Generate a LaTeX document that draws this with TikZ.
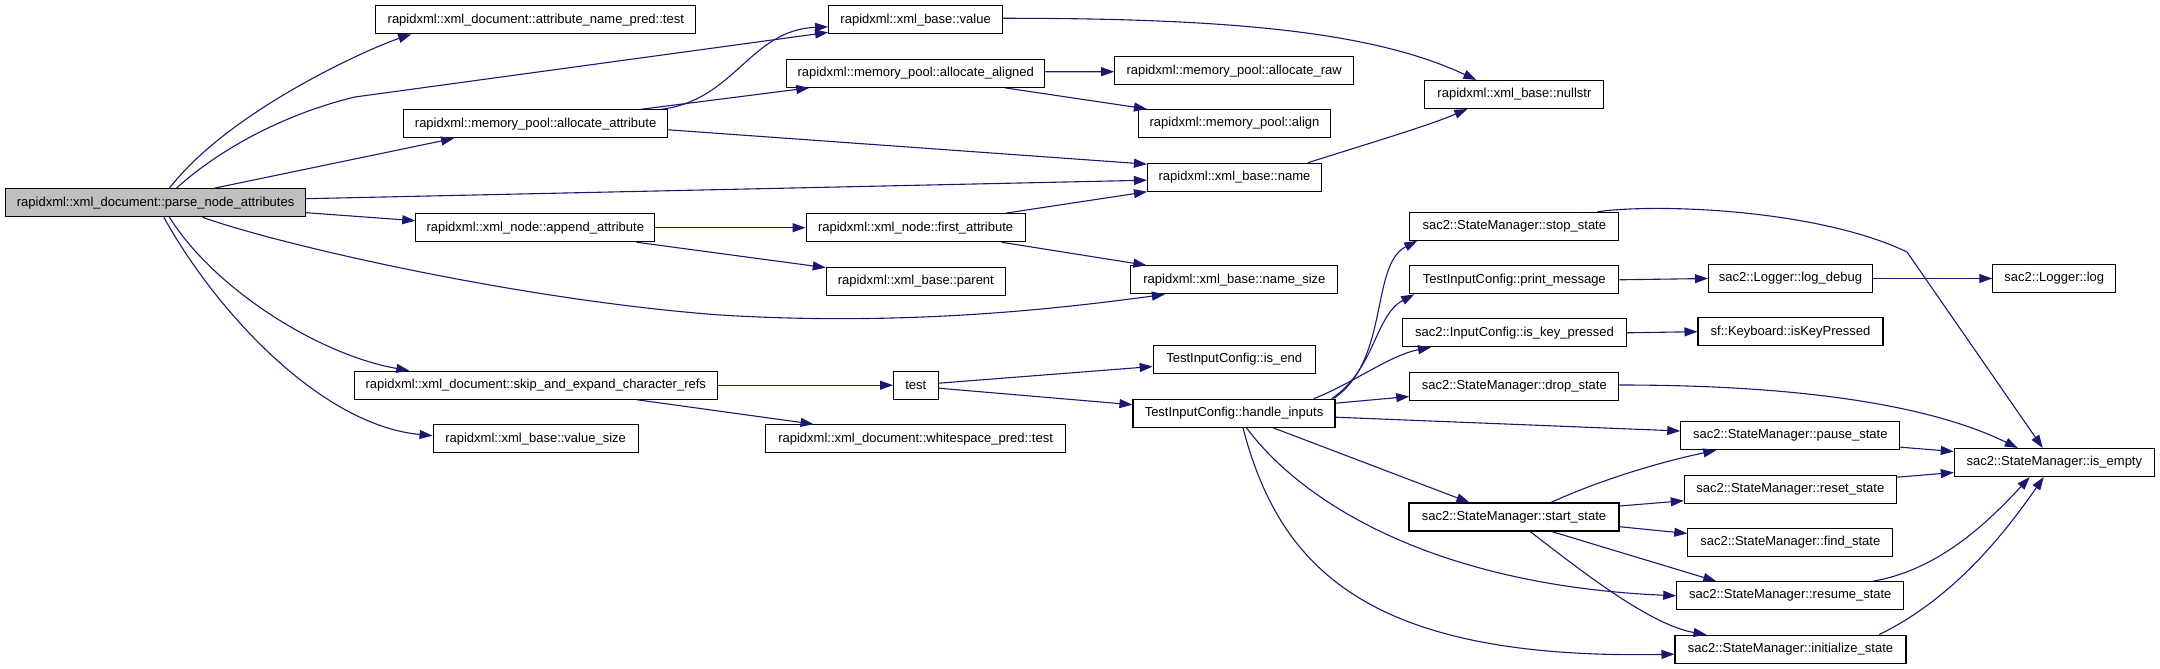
\documentclass[tikz,border=0pt]{standalone}
\usepackage{fontspec}
\setmainfont{Liberation Sans}
\usetikzlibrary{arrows.meta,calc}
\definecolor{edgeblue}{HTML}{191970}
\definecolor{nodegray}{HTML}{BFBFBF}
\begin{document}
\begin{tikzpicture}[x=1pt,y=-1pt,
  fn/.style={draw=black, line width=1.1pt, fill=white, minimum height=28pt, inner sep=0pt, font=\fontsize{13}{15}\selectfont},
  call/.style={draw=edgeblue, line width=1.1pt, -{Triangle[length=13pt,width=9pt]}}]
\fill[white] (0,0) rectangle (2160,669);
\useasboundingbox (0,0) rectangle (2160,669);

% column 0
\node[fn, minimum width=300pt, fill=nodegray] (parse) at (155.6,202.7) {rapidxml::xml\_document::parse\_node\_attributes};
% column 1
\node[fn, minimum width=320pt] (apt) at (535.8,19.8) {rapidxml::xml\_document::attribute\_name\_pred::test};
\node[fn, minimum width=264pt] (aat) at (535.6,123.8) {rapidxml::memory\_pool::allocate\_attribute};
\node[fn, minimum width=239pt] (app) at (535.3,227.7) {rapidxml::xml\_node::append\_attribute};
\node[fn, minimum width=363pt] (ske) at (535.8,385.2) {rapidxml::xml\_document::skip\_and\_expand\_character\_refs};
\node[fn, minimum width=205pt] (vsz) at (535.6,438.7) {rapidxml::xml\_base::value\_size};
% column 2
\node[fn, minimum width=174pt] (val) at (915.6,19.8) {rapidxml::xml\_base::value};
\node[fn, minimum width=258pt] (aal) at (915.8,73.3) {rapidxml::memory\_pool::allocate\_aligned};
\node[fn, minimum width=219pt] (fat) at (915.6,227.7) {rapidxml::xml\_node::first\_attribute};
\node[fn, minimum width=179pt] (par) at (915.8,281.2) {rapidxml::xml\_base::parent};
\node[fn, minimum width=44.5pt] (tst) at (915.8,385.2) {test};
\node[fn, minimum width=300pt] (wsp) at (915.6,438.7) {rapidxml::xml\_document::whitespace\_pred::test};
% column 3
\node[fn, minimum width=239pt] (raw) at (1234.2,70.7) {rapidxml::memory\_pool::allocate\_raw};
\node[fn, minimum width=192pt] (aln) at (1234.5,123.5) {rapidxml::memory\_pool::align};
\node[fn, minimum width=174pt] (nam) at (1234.5,177.2) {rapidxml::xml\_base::name};
\node[fn, minimum width=207pt] (nsz) at (1234.4,279.8) {rapidxml::xml\_base::name\_size};
\node[fn, minimum width=162pt] (ise) at (1234.2,359.5) {TestInputConfig::is\_end};
\node[fn, minimum width=202pt] (hin) at (1234,413.2) {TestInputConfig::handle\_inputs};
% column 4
\node[fn, minimum width=179pt] (nul) at (1514.4,94.5) {rapidxml::xml\_base::nullstr};
\node[fn, minimum width=209pt] (sto) at (1514.3,226.3) {sac2::StateManager::stop\_state};
\node[fn, minimum width=209pt] (prm) at (1514.3,279.8) {TestInputConfig::print\_message};
\node[fn, minimum width=224pt] (ikp) at (1514.5,332.8) {sac2::InputConfig::is\_key\_pressed};
\node[fn, minimum width=209pt] (drp) at (1514.3,386.5) {sac2::StateManager::drop\_state};
\node[fn, minimum width=210pt] (sta) at (1514,517) {sac2::StateManager::start\_state};
% column 5
\node[fn, minimum width=164pt] (ldb) at (1790.5,278.5) {sac2::Logger::log\_debug};
\node[fn, minimum width=185pt] (ikd) at (1790.5,331.7) {sf::Keyboard::isKeyPressed};
\node[fn, minimum width=219pt] (pau) at (1790.3,435.7) {sac2::StateManager::pause\_state};
\node[fn, minimum width=212pt] (rst) at (1790.3,489.2) {sac2::StateManager::reset\_state};
\node[fn, minimum width=205pt] (fnd) at (1790.3,542.5) {sac2::StateManager::find\_state};
\node[fn, minimum width=227pt] (rsm) at (1790.3,595.8) {sac2::StateManager::resume\_state};
\node[fn, minimum width=231pt] (ini) at (1790.5,649.2) {sac2::StateManager::initialize\_state};
% column 6
\node[fn, minimum width=123pt] (log) at (2054.3,278.5) {sac2::Logger::log};
\node[fn, minimum width=200pt] (emp) at (2054.3,462.5) {sac2::StateManager::is\_empty};

% edges from parse_node_attributes
\draw[call] ($(parse.north west)+(164.4,0)$) .. controls (230,110) and (370,48) .. ($(apt.south west)+(36,0)$);
\draw[call] ($(parse.north west)+(171.4,0)$) .. controls (230,140) and (300,110) .. (355,97) -- ($(val.south west)+(0,-2)$);
\draw[call] ($(parse.north west)+(209.4,0)$) -- ($(aat.south west)+(51,0)$);
\draw[call] ($(parse.east)+(0,-4)$) -- ($(nam.west)+(0,3)$);
\draw[call] ($(parse.east)+(0,10)$) -- ($(app.west)+(0,-7)$);
\draw[call] ($(parse.south west)+(197.4,0)$) .. controls (280,245) and (520,300) .. (720,315) .. controls (900,326) and (1050,310) .. ($(nsz.south west)+(34.5,0)$);
\draw[call] ($(parse.south west)+(164.4,0)$) .. controls (215,290) and (320,355) .. ($(ske.north west)+(55.5,0)$);
\draw[call] ($(parse.south west)+(158.8,0)$) .. controls (215,310) and (320,425) .. ($(vsz.west)+(0,-3)$);

% allocate_attribute
\draw[call] ($(aat.north east)+(-6.6,0)$) .. controls (735,100) and (750,30) .. ($(val.west)+(0,7)$);
\draw[call] ($(aat.north east)+(-27,0)$) -- ($(aal.south west)+(23,0)$);
\draw[call] ($(aat.east)+(0,6)$) -- ($(nam.north west)+(0,1.5)$);
% append_attribute
\draw[call] (app.east) -- (fat.west);
\draw[call] ($(app.south east)+(-18.7,0)$) -- ($(par.north west)+(0,1)$);
% allocate_aligned
\draw[call] ($(aal.east)+(0,-1.5)$) -- ($(raw.west)+(0,1)$);
\draw[call] ($(aal.south east)+(-40.3,0)$) -- ($(aln.north west)+(9,0)$);
% value, name -> nullstr
\draw[call] ($(val.east)+(0,-1.5)$) .. controls (1250,18) and (1380,35) .. ($(nul.north west)+(52,0)$);
\draw[call] ($(nam.north east)+(-14,0)$) .. controls (1380,140) and (1430,125) .. ($(nul.south west)+(43,0)$);
% first_attribute
\draw[call] ($(fat.north east)+(-20,0)$) -- (nam.south west);
\draw[call] ($(fat.south east)+(-24,0)$) -- ($(nsz.north west)+(16,0)$);
% skip_and_expand
\draw[call] (ske.east) -- (tst.west);
\draw[call] ($(ske.south east)+(-81,0)$) -- ($(wsp.north west)+(48.5,0)$);
% test
\draw[call] ($(tst.east)+(0,-2)$) -- ($(ise.west)+(0,7)$);
\draw[call] ($(tst.east)+(0,3)$) -- ($(hin.west)+(0,-8.5)$);
% handle_inputs
\draw[call] ($(hin.north east)+(-2,0)$) .. controls (1390,360) and (1370,265) .. ($(sto.south west)+(8,0)$);
\draw[call] ($(hin.north east)+(-4,0)$) .. controls (1375,370) and (1375,315) .. ($(prm.south west)+(5,0)$);
\draw[call] ($(hin.north east)+(-22,0)$) .. controls (1350,385) and (1390,355) .. ($(ikp.south west)+(29,0)$);
\draw[call] ($(hin.east)+(0,-10)$) -- ($(drp.west)+(0,10)$);
\draw[call] ($(hin.east)+(0,4)$) -- ($(pau.west)+(0,-4.7)$);
\draw[call] ($(hin.south west)+(140.5,0)$) -- ($(sta.north west)+(61,0)$);
\draw[call] ($(hin.south west)+(114,0)$) .. controls (1300,500) and (1430,585) .. (rsm.west);
\draw[call] ($(hin.south west)+(110.5,0)$) .. controls (1280,570) and (1370,660) .. ($(ini.west)+(0,5)$);
% column 4 outgoing
\draw[call] ($(sto.north east)+(-22,0)$) .. controls (1660,203) and (1820,210) .. (1907,252) -- ($(emp.north west)+(89,0)$);
\draw[call] ($(drp.east)+(0,-1.5)$) .. controls (1800,385) and (1930,405) .. ($(emp.north west)+(64,0)$);
\draw[call] (prm.east) -- (ldb.west);
\draw[call] (ldb.east) -- (log.west);
\draw[call] (ikp.east) -- (ikd.west);
% start_state
\draw[call] ($(sta.north west)+(142.5,0)$) .. controls (1600,480) and (1660,462) .. ($(pau.south west)+(36,0)$);
\draw[call] ($(sta.east)+(0,-11)$) -- ($(rst.south west)+(0,-3)$);
\draw[call] ($(sta.east)+(0,9.7)$) -- ($(fnd.west)+(0,-9)$);
\draw[call] ($(sta.south west)+(143.3,0)$) -- ($(rsm.north west)+(40,0)$);
\draw[call] ($(sta.south west)+(121.7,0)$) .. controls (1580,570) and (1650,625) .. ($(ini.north west)+(32,0)$);
% column 5 -> is_empty
\draw[call] ($(pau.east)+(0,11.5)$) -- ($(emp.west)+(0,-11)$);
\draw[call] ($(rst.east)+(0,-12)$) -- ($(emp.west)+(0,10)$);
\draw[call] ($(rsm.north east)+(-32,0)$) .. controls (1940,570) and (1990,520) .. ($(emp.south west)+(76,0)$);
\draw[call] ($(ini.north east)+(-27.5,0)$) .. controls (1950,600) and (2000,540) .. ($(emp.south west)+(90,0)$);
\end{tikzpicture}
\end{document}
